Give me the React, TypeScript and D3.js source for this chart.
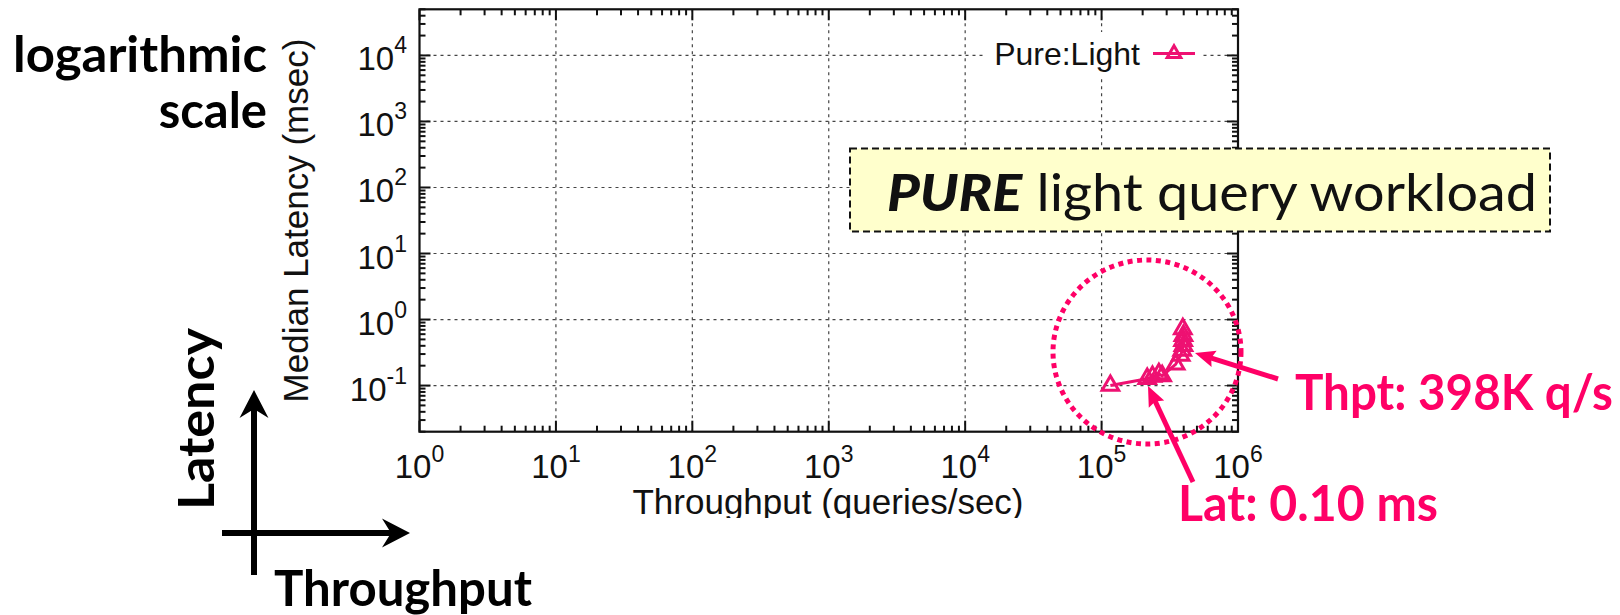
import React from 'react';
import * as d3 from 'd3';

// Pure:Light series
const throughput = [116000, 216000, 236000, 263000, 278000, 349000, 380000, 390000, 398000, 396000, 398000, 394000];
const latency = [0.10, 0.127, 0.137, 0.15, 0.14, 0.21, 0.285, 0.34, 0.40, 0.48, 0.57, 0.72];

const xDecades = [0, 1, 2, 3, 4, 5, 6];
const yDecades = [-1, 0, 1, 2, 3, 4];
const seriesName = 'Pure:Light';

const PINK = '#ff0066';
const LINE_PINK = '#ee1172';
const SANS = '"Liberation Sans", Arial, Helvetica, sans-serif';
const GEO = 'Lato, "Noto Sans", sans-serif';

const W = 1620, H = 615;
const left = 419.5, right = 1238, top = 9.3, bottom = 431.7;

const App = () => {
    const x = d3.scaleLog().domain([1, 1e6]).range([left, right]);
    const y = d3.scaleLog().domain([0.02, 50000]).range([bottom, top]);

    const pts = throughput.map((t, i) => [x(t), y(latency[i])] as [number, number]);
    const line = d3.line()(pts) || '';
    const tri = d3.symbol().type(d3.symbolTriangle).size(120)() || '';
    const triLegend = d3.symbol().type(d3.symbolTriangle).size(80)() || '';

    // minor ticks
    let xMinor: number[] = [];
    for (let d = 0; d < 6; d++) for (let k = 2; k < 10; k++) xMinor.push(k * Math.pow(10, d));
    let yMinor: number[] = [];
    for (let d = -2; d < 5; d++) for (let k = 2; k < 10; k++) {
        let v = k * Math.pow(10, d);
        if (v >= 0.02 && v <= 50000) yMinor.push(v);
    }

    const grid = { stroke: '#444', strokeWidth: 1.2, strokeDasharray: '3 4' };
    const axis = { stroke: '#111', strokeWidth: 2 };

    // arrow head helper
    const head = (x1: number, y1: number, x2: number, y2: number, len: number, wid: number, notch: number) => {
        const a = Math.atan2(y2 - y1, x2 - x1);
        const ux = Math.cos(a), uy = Math.sin(a);
        const px = -uy, py = ux;
        const bx = x2 - ux * len, by = y2 - uy * len;
        const nx = x2 - ux * (len - notch), ny = y2 - uy * (len - notch);
        return `M${x2},${y2}L${bx + px * wid / 2},${by + py * wid / 2}L${nx},${ny}L${bx - px * wid / 2},${by - py * wid / 2}Z`;
    };

    const arrows = [
        { x1: 1278, y1: 379, x2: 1195, y2: 353 },
        { x1: 1193, y1: 482, x2: 1148, y2: 386 },
    ];

    return (
        <svg width={W} height={H} style={{ position: 'absolute', left: 0, top: 0, background: '#fff' }}>
            <defs>
                <clipPath id="chartClip">
                    <rect x={0} y={0} width={W} height={518} />
                </clipPath>
            </defs>

            <g clipPath="url(#chartClip)">
                {/* grid */}
                {xDecades.slice(1, -1).map(d => (
                    <line key={'gx' + d} x1={x(Math.pow(10, d))} x2={x(Math.pow(10, d))} y1={top} y2={bottom} style={grid} />
                ))}
                {yDecades.map(d => (
                    <line key={'gy' + d} x1={left} x2={right} y1={y(Math.pow(10, d))} y2={y(Math.pow(10, d))} style={grid} />
                ))}

                {/* ticks */}
                {xMinor.map((v, i) => (
                    <g key={'xm' + i}>
                        <line x1={x(v)} x2={x(v)} y1={bottom} y2={bottom - 6} style={axis} />
                        <line x1={x(v)} x2={x(v)} y1={top} y2={top + 6} style={axis} />
                    </g>
                ))}
                {xDecades.map(d => (
                    <g key={'xM' + d}>
                        <line x1={x(Math.pow(10, d))} x2={x(Math.pow(10, d))} y1={bottom} y2={bottom - 11} style={axis} />
                        <line x1={x(Math.pow(10, d))} x2={x(Math.pow(10, d))} y1={top} y2={top + 11} style={axis} />
                    </g>
                ))}
                {yMinor.map((v, i) => (
                    <g key={'ym' + i}>
                        <line x1={left} x2={left + 6} y1={y(v)} y2={y(v)} style={axis} />
                        <line x1={right} x2={right - 6} y1={y(v)} y2={y(v)} style={axis} />
                    </g>
                ))}
                {yDecades.map(d => (
                    <g key={'yM' + d}>
                        <line x1={left} x2={left + 11} y1={y(Math.pow(10, d))} y2={y(Math.pow(10, d))} style={axis} />
                        <line x1={right} x2={right - 11} y1={y(Math.pow(10, d))} y2={y(Math.pow(10, d))} style={axis} />
                    </g>
                ))}

                <rect x={left} y={top} width={right - left} height={bottom - top} fill="none" stroke="#111" strokeWidth={2.2} />

                {/* tick labels */}
                {xDecades.map(d => (
                    <text key={'xl' + d} x={x(Math.pow(10, d))} y={478} textAnchor="middle" fontFamily={SANS} fontSize={33} fill="#111">
                        10<tspan fontSize={23} dy={-16}>{d}</tspan>
                    </text>
                ))}
                {yDecades.map(d => (
                    <text key={'yl' + d} x={407} y={y(Math.pow(10, d)) + 15} textAnchor="end" fontFamily={SANS} fontSize={33} fill="#111">
                        10<tspan fontSize={23} dy={-17}>{d}</tspan>
                    </text>
                ))}

                {/* axis titles */}
                <text x={828} y={514} textAnchor="middle" fontFamily={SANS} fontSize={35} fill="#111">Throughput (queries/sec)</text>
                <text transform={`translate(308,${(top + bottom) / 2}) rotate(-90)`} textAnchor="middle" fontFamily={SANS} fontSize={35} fill="#111">
                    Median Latency (msec)
                </text>

                {/* legend */}
                <rect x={985} y={32} width={218} height={44} fill="#fff" />
                <text x={1140} y={65} textAnchor="end" fontFamily={SANS} fontSize={32} fill="#111">{seriesName}</text>
                <line x1={1153} x2={1195} y1={53.5} y2={53.5} stroke={LINE_PINK} strokeWidth={3} />
                <path d={triLegend} transform="translate(1174,53.5)" fill="none" stroke={LINE_PINK} strokeWidth={3} />

                {/* series */}
                <path d={line} fill="none" stroke={LINE_PINK} strokeWidth={3} />
                {pts.map((p, i) => (
                    <path key={'pt' + i} d={tri} transform={`translate(${p[0]},${p[1]})`} fill="none" stroke={LINE_PINK} strokeWidth={3} />
                ))}
            </g>

            {/* workload box */}
            <rect x={850} y={148.5} width={700} height={83} fill="#ffffcc" stroke="#111" strokeWidth={2} strokeDasharray="7 4" />
            <text x={887} y={211} fontFamily={GEO} fontSize={52} fill="#111" textLength={650} lengthAdjust="spacingAndGlyphs">
                <tspan fontWeight={900} fontStyle="italic">PURE</tspan>
                <tspan fontWeight={400}> light query workload</tspan>
            </text>

            {/* circle + callouts */}
            <ellipse cx={1147} cy={352} rx={94} ry={92} fill="none" stroke={PINK} strokeWidth={5} strokeDasharray="5 4.5" />
            {arrows.map((a, i) => (
                <g key={'ar' + i}>
                    <line x1={a.x1} y1={a.y1} x2={a.x1 + (a.x2 - a.x1) * 0.85} y2={a.y1 + (a.y2 - a.y1) * 0.85} stroke={PINK} strokeWidth={5} />
                    <path d={head(a.x1, a.y1, a.x2, a.y2, 20, 17, 3)} fill={PINK} />
                </g>
            ))}
            <text x={1295} y={410} fontFamily={GEO} fontWeight={700} fontSize={50} fill={PINK} textLength={318} lengthAdjust="spacingAndGlyphs">Thpt: 398K q/s</text>
            <text x={1178} y={521} fontFamily={GEO} fontWeight={700} fontSize={50} fill={PINK} textLength={260} lengthAdjust="spacingAndGlyphs">Lat: 0.10 ms</text>

            {/* left annotations */}
            <text x={267} y={72} textAnchor="end" fontFamily={GEO} fontWeight={700} fontSize={49} fill="#000" textLength={254} lengthAdjust="spacingAndGlyphs">logarithmic</text>
            <text x={267} y={128} textAnchor="end" fontFamily={GEO} fontWeight={700} fontSize={49} fill="#000">scale</text>
            <text transform="translate(214,510) rotate(-90)" fontFamily={GEO} fontWeight={700} fontSize={49} fill="#000" textLength={182} lengthAdjust="spacingAndGlyphs">Latency</text>
            <text x={274} y={606} fontFamily={GEO} fontWeight={700} fontSize={49} fill="#000" textLength={258} lengthAdjust="spacingAndGlyphs">Throughput</text>

            {/* latency/throughput axes */}
            <line x1={254} y1={575} x2={254} y2={405} stroke="#000" strokeWidth={6} />
            <path d={head(254, 575, 254, 390, 28, 29, 9)} fill="#000" />
            <line x1={222} y1={533} x2={395} y2={533} stroke="#000" strokeWidth={6} />
            <path d={head(222, 533, 410, 533, 28, 29, 9)} fill="#000" />
        </svg>
    );
};

export default App;
